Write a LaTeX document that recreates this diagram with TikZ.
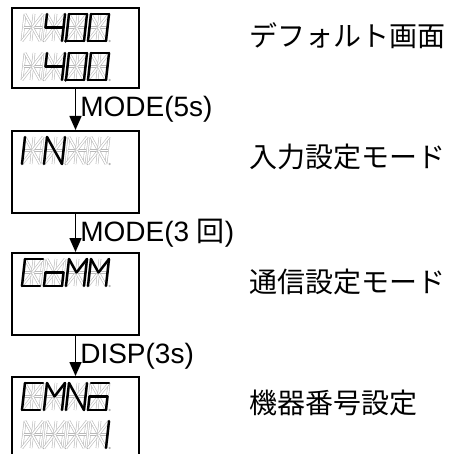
\documentclass[tikz,border=0pt]{standalone}
\usepackage{fontspec}
\usetikzlibrary{arrows.meta,positioning}
\newfontfamily\labelfont{Liberation Sans}
\newfontfamily\jpfont{Noto Sans CJK JP}

\tikzset{
  screen/.style={draw, line width=1pt, minimum width=63.5pt, inner sep=0pt},
  unlit/.style={draw=gray!55, line width=0.3pt, double=white, double distance=0.75pt},
  lit/.style={draw=black, line width=1.2pt, line cap=round},
  flow/.style={line width=0.8pt, -{Triangle[length=7pt,width=6pt]}},
  keylabel/.style={anchor=west, inner sep=0pt, xshift=2pt,
    font=\labelfont\fontsize{14pt}{16pt}\selectfont},
  modename/.style={anchor=west, inner sep=0pt,
    font=\jpfont\fontsize{14pt}{16pt}\selectfont},
}

\makeatletter
% one 14-segment cell: x, y (top of the cell), lit segments
\newcommand{\lcddigit}[3]{%
  \begin{scope}[shift={(#1,#2)}, xshift=1.5pt, x={(9pt,0pt)}, y={(-1.5pt,-13.5pt)}]
    \coordinate (tl) at (0,0);   \coordinate (tm) at (0.5,0);   \coordinate (tr) at (1,0);
    \coordinate (ml) at (0,0.5); \coordinate (mm) at (0.5,0.5); \coordinate (mr) at (1,0.5);
    \coordinate (bl) at (0,1);   \coordinate (bm) at (0.5,1);   \coordinate (br) at (1,1);
    \foreach \segname/\pa/\pb in {a/tl/tr, b/tr/mr, c/mr/br, d/bl/br, e/ml/bl, f/tl/ml,
        g/ml/mr, h/tl/mm, i/tm/mm, j/tr/mm, k/bl/mm, l/mm/bm, m/br/mm}
      {\draw[unlit] (\pa) -- (\pb);}
    \fill[gray!60] (1.2,1) circle (0.6pt);
    \foreach \segname/\pa/\pb in {a/tl/tr, b/tr/mr, c/mr/br, d/bl/br, e/ml/bl, f/tl/ml,
        g/ml/mr, h/tl/mm, i/tm/mm, j/tr/mm, k/bl/mm, l/mm/bm, m/br/mm, p/br/br}{%
      \edef\lcdtest{\noexpand\in@{,\segname,}{,#3,}}\lcdtest
      \ifin@
        \ifx\pa\pb \fill (1.2,1) circle (0.9pt);
        \else \draw[lit] (\pa) -- (\pb);
        \fi
      \fi}
  \end{scope}}
\makeatother

% four cells in a row
\newcommand{\lcdrow}[5]{%
  \lcddigit{22}{#1}{#2}\lcddigit{44}{#1}{#3}\lcddigit{66}{#1}{#4}\lcddigit{88}{#1}{#5}}

\begin{document}
\begin{tikzpicture}[x=0.5pt, y=-0.5pt]
  \clip[use as bounding box] (0,0) rectangle (449,454);

  % screens
  \node[screen, minimum height=40pt] (b1) at (75.5,48) {};
  \node[screen, minimum height=41pt] (b2) at (75.5,172) {};
  \node[screen, minimum height=41pt] (b3) at (75.5,294) {};
  \node[screen, minimum height=41pt] (b4) at (75.5,418) {};

  \lcdrow{14}{}{f,g,b,c,p}{a,b,c,d,e,f}{a,b,c,d,e,f}
  \lcdrow{53}{}{f,g,b,c,p}{a,b,c,d,e,f}{a,b,c,d,e,f}
  \lcdrow{137}{f,e}{f,e,h,m,b,c}{}{}
  \lcdrow{259}{a,f,e,d}{g,e,c,d}{f,e,h,j,b,c}{f,e,h,j,b,c}
  \lcdrow{383}{a,f,e,d}{f,e,h,j,b,c}{f,e,h,m,b,c}{a,g,e,c,d}
  \lcdrow{421}{}{}{}{b,c}

  % key presses
  \draw[flow] (b1.south) -- (b2.north) node[midway, keylabel] {MODE(5s)};
  \draw[flow] (b2.south) -- (b3.north) node[midway, keylabel] {MODE(3 {\jpfont 回})};
  \draw[flow] (b3.south) -- (b4.north) node[midway, keylabel] {DISP(3s)};

  % mode names
  \node[modename] (t1) at (249,36) {デフォルト画面};
  \node[modename] (t2) at (249,157) {入力設定モード};
  \node[modename] (t3) at (249,282) {通信設定モード};
  \node[modename] (t4) at (249,403) {機器番号設定};
\end{tikzpicture}
\end{document}
